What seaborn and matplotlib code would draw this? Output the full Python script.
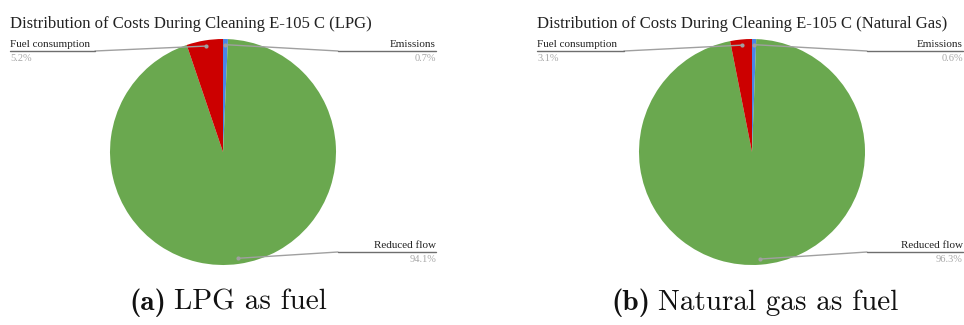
import matplotlib
matplotlib.use("Agg")
import matplotlib.pyplot as plt
import seaborn as sns
import numpy as np

# Cost shares (%) for the exchanger cleaning, clockwise from 12 o'clock
categories = ["Emissions", "Reduced flow", "Fuel consumption"]
lpg_share = [0.7, 94.1, 5.2]
ng_share = [0.6, 96.3, 3.1]
pct_labels_lpg = ["0.7%", "94.1%", "5.2%"]
pct_labels_ng = ["0.6%", "96.3%", "3.1%"]

panel_titles = [
    "Distribution of Costs During Cleaning E-105 C (LPG)",
    "Distribution of Costs During Cleaning E-105 C (Natural Gas)",
]
caption_tags = ["(a)", "(b)"]
caption_texts = ["LPG as fuel", "Natural gas as fuel"]
slice_colors = ["#4a86e8", "#6aa84f", "#cc0000"]

sns.set_theme(style="white")
plt.rcParams["font.family"] = ["Liberation Serif", "DejaVu Serif"]

W, H = 964, 325
fig = plt.figure(figsize=(W / 100, H / 100), dpi=100)
ax = fig.add_axes([0, 0, 1, 1])


def py(y):
    """Convert a top-down pixel row into the y-up canvas coordinate."""
    return H - y


panels = [
    dict(values=lpg_share, pcts=pct_labels_lpg, cx=223, left_x=10, right_x=436,
         title=panel_titles[0], tag=caption_tags[0], cap=caption_texts[0], cap_x=228),
    dict(values=ng_share, pcts=pct_labels_ng, cx=752, left_x=537, right_x=963,
         title=panel_titles[1], tag=caption_tags[1], cap=caption_texts[1], cap_x=755),
]
cy = py(152)
radius = 113

renderer = fig.canvas.get_renderer()

for p in panels:
    wedges, _ = ax.pie(p["values"], colors=slice_colors, startangle=90,
                       counterclock=False, center=(p["cx"], cy), radius=radius,
                       wedgeprops=dict(linewidth=0))
    ax.text(p["left_x"], py(28), p["title"], fontsize=12, color="#222222",
            ha="left", va="baseline")
    for w, name, pct in zip(wedges, categories, p["pcts"]):
        ang = np.deg2rad((w.theta1 + w.theta2) / 2)
        px = p["cx"] + 0.95 * radius * np.cos(ang)
        pyy = cy + 0.95 * radius * np.sin(ang)
        on_left = np.cos(ang) < -0.05
        line_y = py(51) if pyy > cy else py(252)
        if on_left:
            elbow = p["cx"] - 128
            end = p["left_x"]
            ha = "left"
        else:
            elbow = p["cx"] + 115
            end = p["right_x"]
            ha = "right"
        ax.plot([px, elbow], [pyy, line_y], color="#a0a0a0", lw=1.0,
                solid_capstyle="round", zorder=3)
        ax.plot([elbow, end], [line_y, line_y], color="#6e6e6e", lw=1.0, zorder=3)
        ax.plot([px], [pyy], marker="o", ms=3, color="#a0a0a0", mew=0, zorder=4)
        ax.text(end, line_y + 2, name, fontsize=8, color="#222222",
                ha=ha, va="bottom")
        ax.text(end, line_y - 3, pct, fontsize=7.5, color="#a8a8a8",
                ha=ha, va="top")

    # Sub-figure caption: bold tag followed by roman text, centred as one line
    gap = 8
    tag = fig.text(0, 0, p["tag"], fontfamily="cmb10", fontsize=21,
                   color="#111111", va="baseline")
    body = fig.text(0, 0, p["cap"], fontfamily="cmr10", fontsize=21,
                    color="#111111", va="baseline")
    w_tag = tag.get_window_extent(renderer).width
    w_body = body.get_window_extent(renderer).width
    x0 = p["cap_x"] - (w_tag + gap + w_body) / 2
    tag.set_position((x0 / W, 15 / H))
    body.set_position(((x0 + w_tag + gap) / W, 15 / H))

ax.set_xlim(0, W)
ax.set_ylim(0, H)
ax.set_aspect("equal")
ax.axis("off")

fig.savefig("out.png", dpi=100, facecolor="white")
